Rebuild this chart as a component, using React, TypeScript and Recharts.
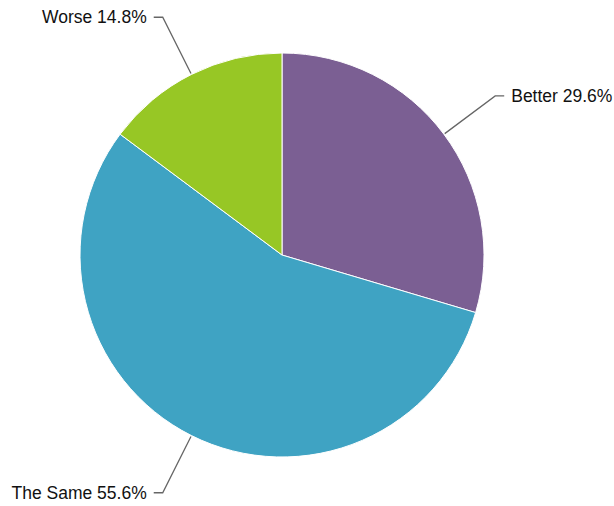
import { PieChart, Pie, Cell } from "recharts";

const categories = ["Better", "The Same", "Worse"];
const shares = [29.6, 55.6, 14.8];
const colors = ["#7b5f93", "#3fa3c3", "#97c725"];

const data = categories.map((name, i) => ({ name, value: shares[i] }));

const RADIAN = Math.PI / 180;

function renderLabel(props: any) {
    const { cx, cy, midAngle, outerRadius, name, value } = props;
    const cos = Math.cos(-midAngle * RADIAN);
    const sin = Math.sin(-midAngle * RADIAN);
    const sx = cx + (outerRadius + 1) * cos;
    const sy = cy + (outerRadius + 1) * sin;
    const mx = cx + (outerRadius + 64) * cos;
    const my = cy + (outerRadius + 64) * sin;
    const right = cos >= 0;
    const ex = mx + (right ? 9 : -9);
    const tx = ex + (right ? 7 : -7);
    return (
        <g>
            <path
                d={`M${sx},${sy}L${mx},${my}L${ex},${my}`}
                stroke="#666"
                strokeWidth={1.3}
                fill="none"
            />
            <text
                x={tx}
                y={my}
                textAnchor={right ? "start" : "end"}
                dominantBaseline="central"
                fontSize={17.5}
                fill="#111"
            >
                {`${name} ${value.toFixed(1)}%`}
            </text>
        </g>
    );
}

export default function App() {
    return (
        <div style={{ position: "absolute", left: 0, top: 0, background: "#fff" }}>
            <PieChart
                width={614}
                height={506}
                margin={{ top: 0, right: 0, bottom: 0, left: 0 }}
                style={{ fontFamily: "'Liberation Sans', Arial, Helvetica, sans-serif" }}
            >
                <Pie
                    data={data}
                    dataKey="value"
                    nameKey="name"
                    cx={282}
                    cy={255}
                    outerRadius={202}
                    startAngle={90}
                    endAngle={-270}
                    stroke="#fff"
                    strokeWidth={1}
                    label={renderLabel}
                    labelLine={false}
                    isAnimationActive={false}
                >
                    {data.map((entry, index) => (
                        <Cell key={`cell-${index}`} fill={colors[index]} />
                    ))}
                </Pie>
            </PieChart>
        </div>
    );
}
